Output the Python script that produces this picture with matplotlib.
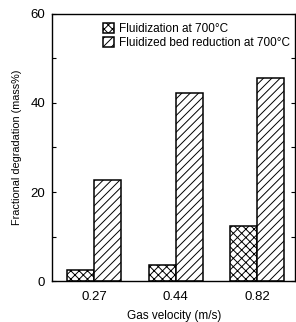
import matplotlib
matplotlib.use("Agg")
import matplotlib.pyplot as plt
import numpy as np

plt.rcParams["font.family"] = ["Liberation Sans", "DejaVu Sans"]
plt.rcParams["hatch.linewidth"] = 0.7

velocities = ["0.27", "0.44", "0.82"]
fluidization = [2.5, 3.6, 12.4]
bed_reduction = [22.7, 42.2, 45.6]
series_labels = ["Fluidization at 700\u00b0C", "Fluidized bed reduction at 700\u00b0C"]

fig = plt.figure(figsize=(2.96, 3.22), dpi=100)
ax = fig.add_axes([0.176, 0.127, 0.822, 0.83])

x = np.arange(len(velocities))
width = 0.33
ax.bar(x - width / 2, fluidization, width=width, facecolor="white",
       edgecolor="black", linewidth=1.1, hatch="xxxx", label=series_labels[0])
ax.bar(x + width / 2, bed_reduction, width=width, facecolor="white",
       edgecolor="black", linewidth=1.1, hatch="////", label=series_labels[1])

ax.set_xlim(-0.515, 2.466)
ax.set_ylim(0, 60)
ax.set_xticks(x, velocities)
ax.set_yticks([0, 20, 40, 60])
ax.set_yticks([10, 30, 50], minor=True)
ax.tick_params(axis="x", length=0, labelsize=9.5, pad=7)
ax.tick_params(axis="y", which="both", direction="in", right=True, length=3,
               labelsize=9.5, width=0.8, pad=5)
ax.set_xlabel("Gas velocity (m/s)", fontsize=8.5, labelpad=5)
ax.set_ylabel("Fractional degradation (mass%)", fontsize=7.8, labelpad=6)
for side in ["top", "bottom", "left", "right"]:
    ax.spines[side].set_linewidth(1.0)

ax.legend(loc="upper left", bbox_to_anchor=(0.17, 1.0), frameon=False,
          fontsize=8.5, handlelength=0.9, handleheight=0.9, handletextpad=0.5,
          labelspacing=0.15, borderpad=0.3)

fig.savefig("out.png", dpi=100)
